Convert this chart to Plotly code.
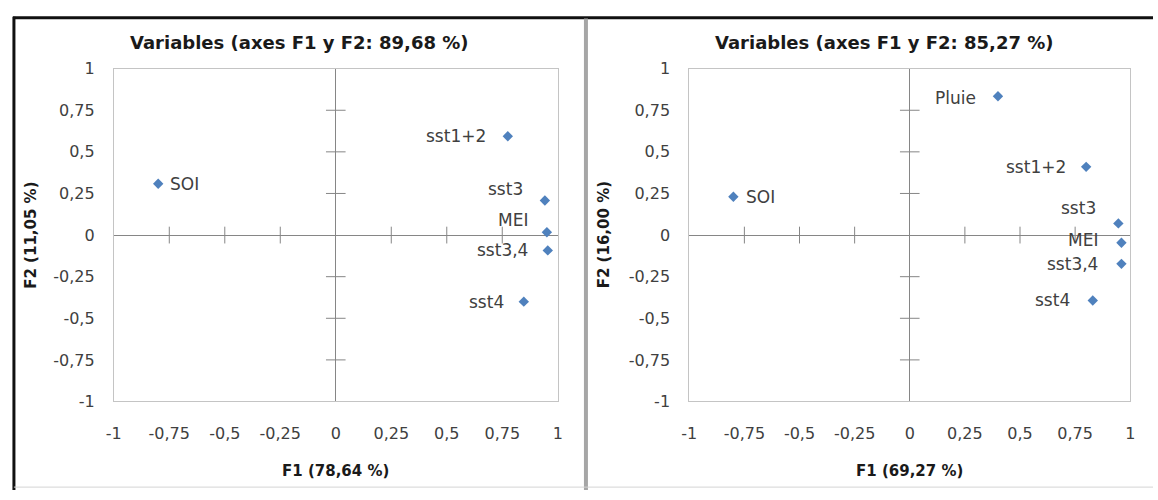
import plotly.graph_objects as go

# ---------------- data ----------------
left_title = "Variables (axes F1 y F2: 89,68 %)"
left_xtitle = "F1 (78,64 %)"
left_ytitle = "F2 (11,05 %)"
left_names = ["SOI", "sst1+2", "sst3", "MEI", "sst3,4", "sst4"]
left_f1 = [-0.80, 0.775, 0.942, 0.951, 0.955, 0.847]
left_f2 = [0.308, 0.594, 0.208, 0.017, -0.092, -0.400]

right_title = "Variables (axes F1 y F2: 85,27 %)"
right_xtitle = "F1 (69,27 %)"
right_ytitle = "F2 (16,00 %)"
right_names = ["Pluie", "sst1+2", "SOI", "sst3", "MEI", "sst3,4", "sst4"]
right_f1 = [0.40, 0.80, -0.80, 0.946, 0.96, 0.96, 0.83]
right_f2 = [0.834, 0.41, 0.23, 0.07, -0.046, -0.173, -0.393]

tick_vals = [-1, -0.75, -0.5, -0.25, 0, 0.25, 0.5, 0.75, 1]
tick_text = ["-1", "-0,75", "-0,5", "-0,25", "0", "0,25", "0,5", "0,75", "1"]
inner_ticks = [-0.75, -0.5, -0.25, 0.25, 0.5, 0.75]

# ---------------- styles ----------------
W, H = 1158, 500
FONT = "DejaVu Sans"
MARKER_COLOR = "#4F81BD"
AXIS_GRAY = "#868686"
FRAME_GRAY = "#c4c4c4"
TEXT = "#404040"
TITLE_TEXT = "#1a1a1a"

# label placement: (anchor, xshift px, yshift px)
left_label_pos = {
    "SOI": ("left", 10, 0), "sst1+2": ("right", -20, 0), "sst3": ("right", -20, 11),
    "MEI": ("right", -17, 12), "sst3,4": ("right", -18, 0), "sst4": ("right", -18, 0),
}
right_label_pos = {
    "Pluie": ("right", -20, -2), "sst1+2": ("right", -18, 0), "SOI": ("left", 11, 0),
    "sst3": ("right", -20, 15), "MEI": ("right", -21, 3), "sst3,4": ("right", -21, 0),
    "sst4": ("right", -21, 0),
}

panels = [
    dict(names=left_names, f1=left_f1, f2=left_f2, title=left_title, xt=left_xtitle,
         yt=left_ytitle, pos=left_label_pos, xdom=[107 / W, 556 / W], xr="x", yr="y",
         title_x=295, ytitle_x=23),
    dict(names=right_names, f1=right_f1, f2=right_f2, title=right_title, xt=right_xtitle,
         yt=right_ytitle, pos=right_label_pos, xdom=[689 / W, 1135 / W], xr="x2", yr="y2",
         title_x=886, ytitle_x=603),
]
ydom = [1 - 408 / H, 1 - 62 / H]

fig = go.Figure()
annotations = []
layout_axes = {}

for i, p in enumerate(panels):
    xr, yr = p["xr"], p["yr"]
    # cross ticks on the centre axes
    fig.add_trace(go.Scatter(
        x=[0] * len(inner_ticks), y=inner_ticks, xaxis=xr, yaxis=yr, mode="markers",
        marker=dict(symbol="line-ew", size=14, line=dict(color=AXIS_GRAY, width=1)),
        hoverinfo="skip", showlegend=False))
    fig.add_trace(go.Scatter(
        x=inner_ticks, y=[0] * len(inner_ticks), xaxis=xr, yaxis=yr, mode="markers",
        marker=dict(symbol="line-ns", size=12, line=dict(color=AXIS_GRAY, width=1)),
        hoverinfo="skip", showlegend=False))
    # variable points
    fig.add_trace(go.Scatter(
        x=p["f1"], y=p["f2"], xaxis=xr, yaxis=yr, mode="markers", text=p["names"],
        marker=dict(symbol="diamond", size=8, color=MARKER_COLOR),
        showlegend=False))
    for n, a, b in zip(p["names"], p["f1"], p["f2"]):
        anc, dx, dy = p["pos"][n]
        annotations.append(dict(
            x=a, y=b, xref=xr, yref=yr, text=n, showarrow=False, xanchor=anc,
            yanchor="middle", xshift=dx, yshift=dy,
            font=dict(family=FONT, size=17, color=TEXT)))
    # panel title
    annotations.append(dict(
        x=p["title_x"] / W, y=1 - 35 / H, xref="paper", yref="paper",
        text="<b>%s</b>" % p["title"], showarrow=False, xanchor="center", yanchor="middle",
        font=dict(family=FONT, size=18, color=TITLE_TEXT)))
    # axis titles
    cx = (p["xdom"][0] + p["xdom"][1]) / 2
    annotations.append(dict(
        x=cx, y=1 - 480 / H, xref="paper", yref="paper", text="<b>%s</b>" % p["xt"],
        showarrow=False, xanchor="center", yanchor="middle",
        font=dict(family=FONT, size=15, color=TITLE_TEXT)))
    annotations.append(dict(
        x=p["ytitle_x"] / W, y=(ydom[0] + ydom[1]) / 2, xref="paper", yref="paper",
        text="<b>%s</b>" % p["yt"], textangle=-90, showarrow=False,
        xanchor="center", yanchor="middle",
        font=dict(family=FONT, size=15, color=TITLE_TEXT)))

    suffix = "" if i == 0 else "2"
    layout_axes["xaxis" + suffix] = dict(
        domain=p["xdom"], anchor="y" + suffix, range=[-1, 1], tickvals=tick_vals,
        ticktext=tick_text, showgrid=False, zeroline=True, zerolinecolor=AXIS_GRAY,
        zerolinewidth=1, showline=True, mirror=True, linecolor=FRAME_GRAY, linewidth=1,
        ticks="", ticklabelstandoff=17, fixedrange=True,
        tickfont=dict(family=FONT, size=16, color=TEXT))
    layout_axes["yaxis" + suffix] = dict(
        domain=ydom, anchor="x" + suffix, range=[-1, 1], tickvals=tick_vals,
        ticktext=tick_text, showgrid=False, zeroline=True, zerolinecolor=AXIS_GRAY,
        zerolinewidth=1, showline=True, mirror=True, linecolor=FRAME_GRAY, linewidth=1,
        ticks="", ticklabelstandoff=15, fixedrange=True,
        tickfont=dict(family=FONT, size=16, color=TEXT))

# picture frame (decoration)
shapes = [
    dict(type="line", xref="paper", yref="paper", x0=5 / W, x1=1, y0=1 - 9 / H, y1=1 - 9 / H,
         line=dict(color="#111111", width=3)),
    dict(type="line", xref="paper", yref="paper", x0=6 / W, x1=6 / W, y0=0, y1=1 - 8 / H,
         line=dict(color="#111111", width=3)),
    dict(type="line", xref="paper", yref="paper", x0=584.5 / W, x1=584.5 / W, y0=0,
         y1=1 - 10 / H, line=dict(color="#a6a6a6", width=4)),
    dict(type="line", xref="paper", yref="paper", x0=6 / W, x1=1, y0=1 - 497 / H,
         y1=1 - 497 / H, line=dict(color="#d4d4d4", width=1)),
]

fig.update_layout(
    width=W, height=H, margin=dict(l=0, r=0, t=0, b=0),
    paper_bgcolor="white", plot_bgcolor="white",
    font=dict(family=FONT, color=TEXT),
    annotations=annotations, shapes=shapes, showlegend=False,
    **layout_axes)

fig.write_html("out.html")
